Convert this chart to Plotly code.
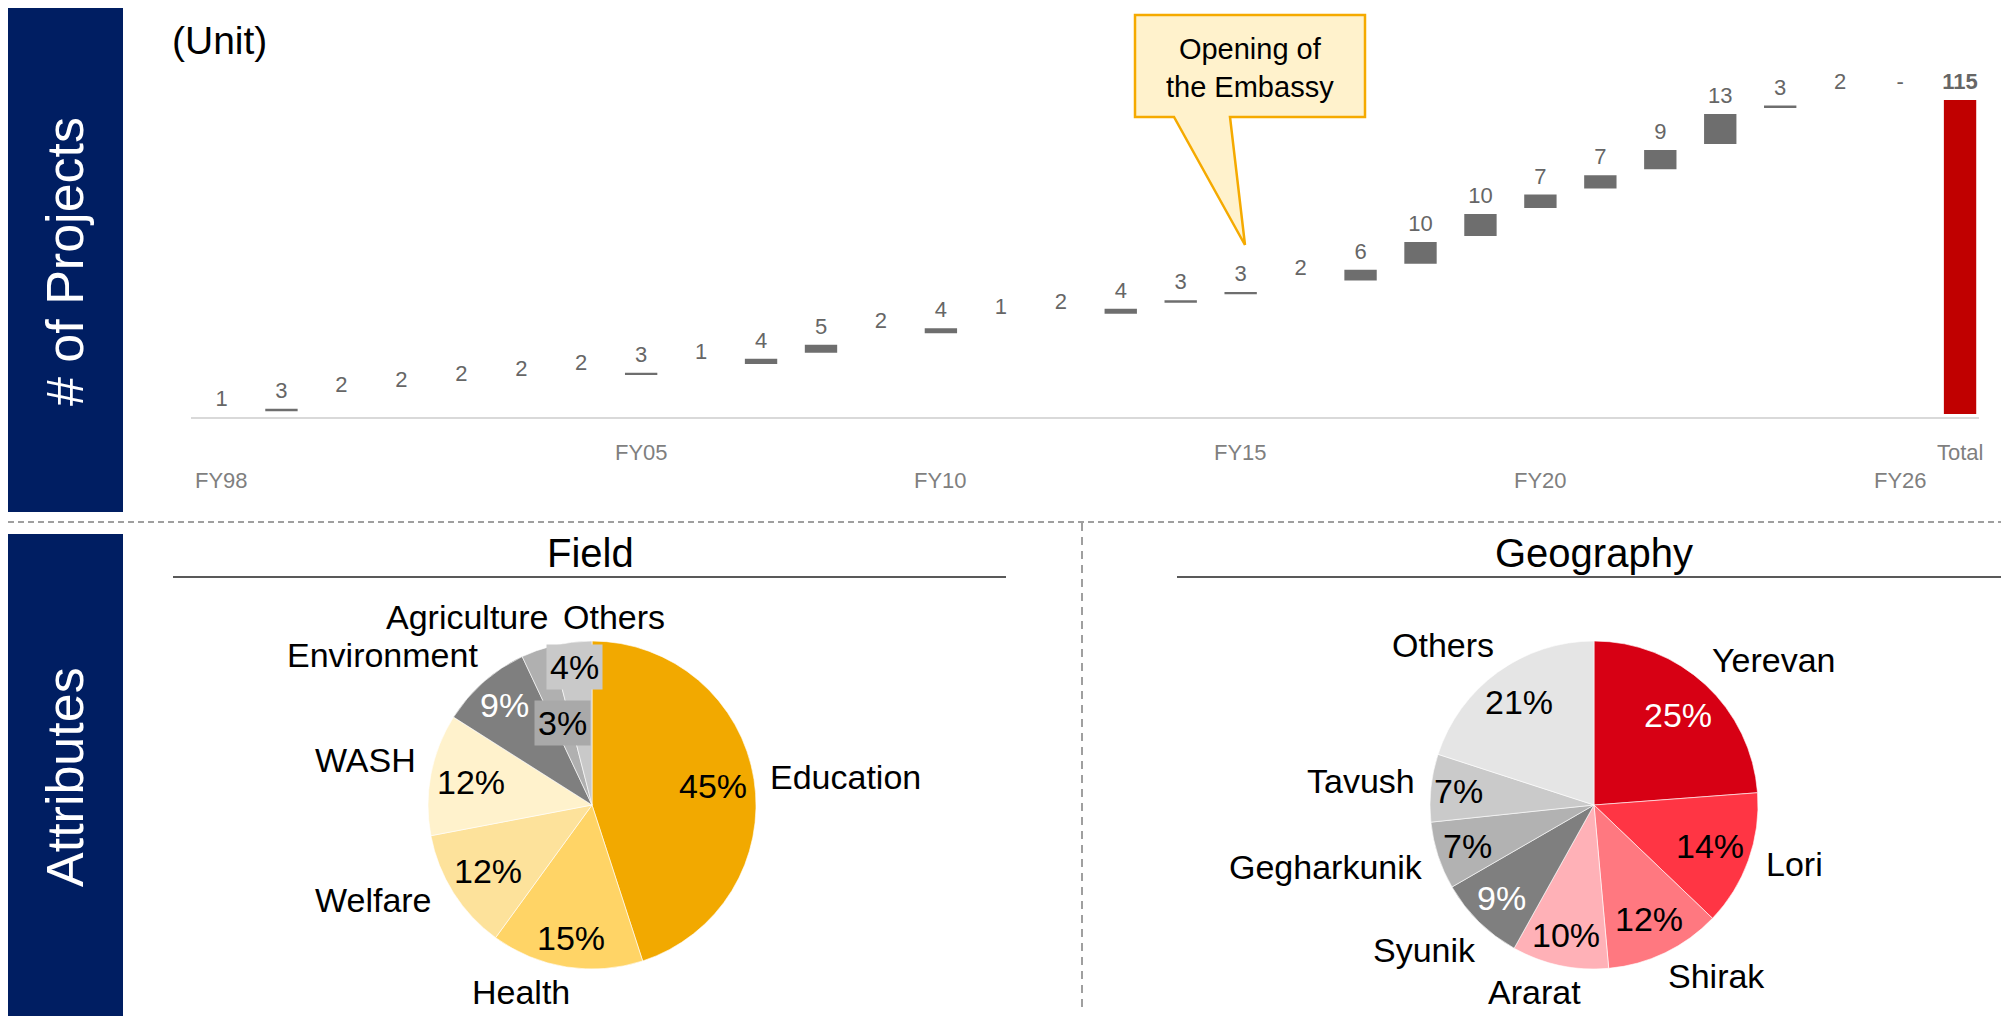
import math
import plotly.graph_objects as go

# ---------------- data ----------------
years = ["FY98", "FY99", "FY00", "FY01", "FY02", "FY03", "FY04", "FY05", "FY06", "FY07",
         "FY08", "FY09", "FY10", "FY11", "FY12", "FY13", "FY14", "FY15", "FY16", "FY17",
         "FY18", "FY19", "FY20", "FY21", "FY22", "FY23", "FY24", "FY25", "FY26"]
project_counts = [1, 3, 2, 2, 2, 2, 2, 3, 1, 4, 5, 2, 4, 1, 2, 4, 3, 3, 2, 6,
                  10, 10, 7, 7, 9, 13, 3, 2, 0]
total_label = "Total"
tick_labels_shown = ["FY98", "FY05", "FY10", "FY15", "FY20", "FY26", "Total"]

field_labels = ["Education", "Health", "Welfare", "WASH", "Environment", "Agriculture", "Others"]
field_values = [45, 15, 12, 12, 9, 3, 4]

geo_labels = ["Yerevan", "Lori", "Shirak", "Ararat", "Syunik", "Gegharkunik", "Tavush", "Others"]
geo_values = [25, 14, 12, 10, 9, 7, 7, 21]

# ---------------- styling ----------------
W, H = 2009, 1016
OFF = 8  # page body margin
FONT = "Liberation Sans, Arial, sans-serif"
NAVY = "#001E62"


def X(px):
    return (px - OFF) / W


def Y(py):
    return 1 - (py - OFF) / H


total = sum(project_counts)
cats = years + [total_label]
measures = ["relative"] * len(years) + ["total"]
wf_values = project_counts + [total]
wf_text = [str(v) if v else "-" for v in project_counts] + [f"<b>{total}</b>"]

fig = go.Figure()

fig.add_trace(go.Waterfall(
    x=cats, y=wf_values, measure=measures,
    text=wf_text, textposition="outside", constraintext="none",
    textfont=dict(family=FONT, size=22, color="#666666"),
    width=0.64,
    increasing=dict(marker=dict(color="#6E6E6E", line=dict(color="white", width=6))),
    decreasing=dict(marker=dict(color="#6E6E6E", line=dict(color="white", width=6))),
    totals=dict(marker=dict(color="#C00000", line=dict(color="white", width=6))),
    connector=dict(visible=False),
    cliponaxis=False, hoverinfo="skip", showlegend=False,
    xaxis="x", yaxis="y",
))

# pies
field_colors = ["#F2A900", "#FFD466", "#FDE29B", "#FFF2CC", "#7F7F7F", "#B0B0B0", "#C9C9C9"]
geo_colors = ["#D70014", "#FF3544", "#FF7880", "#FFB1B7", "#7F7F7F", "#B2B2B2", "#CACACA", "#E5E5E5"]

field_c = (592, 805)
geo_c = (1594, 805)
R = 164

for vals, labs, cols, (cx, cy) in [(field_values, field_labels, field_colors, field_c),
                                   (geo_values, geo_labels, geo_colors, geo_c)]:
    fig.add_trace(go.Pie(
        values=vals, labels=labs, sort=False, direction="clockwise", rotation=0,
        marker=dict(colors=cols, line=dict(color="rgba(255,255,255,0.6)", width=1)),
        textinfo="none", hoverinfo="skip", showlegend=False,
        domain=dict(x=[X(cx - R), X(cx + R)], y=[Y(cy + R), Y(cy - R)]),
    ))

annotations = []


def pct_annots(vals, center, kfac, colors, bgs):
    s = sum(vals)
    cum = 0
    cx, cy = center
    out = []
    for v, k, c, bg in zip(vals, kfac, colors, bgs):
        mid = (cum + v / 2) / s * 2 * math.pi
        cum += v
        px = cx + R * k * math.sin(mid)
        py = cy - R * k * math.cos(mid)
        out.append(dict(x=X(px), y=Y(py), xref="paper", yref="paper", text=f"{v}%",
                        showarrow=False, xanchor="center", yanchor="middle",
                        font=dict(family=FONT, size=34, color=c),
                        bgcolor=bg, borderpad=3))
    return out


annotations += pct_annots(field_values, field_c,
                          [0.75, 0.82, 0.75, 0.75, 0.81, 0.53, 0.85],
                          ["black", "black", "black", "black", "white", "black", "black"],
                          [None, None, None, None, None, "#A9A9A9", "#C9C9C9"])
annotations += pct_annots(geo_values, geo_c,
                          [0.75, 0.75, 0.77, 0.81, 0.80, 0.81, 0.83, 0.78],
                          ["white", "black", "black", "black", "white", "black", "black", "black"],
                          [None] * 8)

# category labels around pies (x px, y px, anchor)
field_label_pos = [(768, 777, "left"), (521, 992, "center"), (434, 900, "right"),
                   (418, 760, "right"), (480, 655, "right"), (467, 617, "center"),
                   (614, 617, "center")]
geo_label_pos = [(1710, 660, "left"), (1764, 864, "left"), (1716, 976, "center"),
                 (1534, 992, "center"), (1424, 950, "center"), (1425, 867, "right"),
                 (1417, 781, "right"), (1443, 645, "center")]
for labs, poss in [(field_labels, field_label_pos), (geo_labels, geo_label_pos)]:
    for lab, (px, py, anc) in zip(labs, poss):
        annotations.append(dict(x=X(px), y=Y(py), xref="paper", yref="paper", text=lab,
                                showarrow=False, xanchor=anc, yanchor="middle",
                                font=dict(family=FONT, size=34, color="black")))

# section titles
for t, cx in [("Field", 590), ("Geography", 1594)]:
    annotations.append(dict(x=X(cx), y=Y(553), xref="paper", yref="paper", text=t,
                            showarrow=False, xanchor="center", yanchor="middle",
                            font=dict(family=FONT, size=40, color="black")))

# band titles
annotations.append(dict(x=X(65), y=Y(262), xref="paper", yref="paper", text="# of Projects",
                        textangle=-90, showarrow=False, xanchor="center", yanchor="middle",
                        font=dict(family=FONT, size=52, color="white")))
annotations.append(dict(x=X(65), y=Y(777), xref="paper", yref="paper", text="Attributes",
                        textangle=-90, showarrow=False, xanchor="center", yanchor="middle",
                        font=dict(family=FONT, size=52, color="white")))

# unit
annotations.append(dict(x=X(170), y=Y(41), xref="paper", yref="paper", text="(Unit)",
                        showarrow=False, xanchor="left", yanchor="middle",
                        font=dict(family=FONT, size=39, color="black")))

# staggered tick labels
tick_rows = {"FY98": 480, "FY05": 452, "FY10": 480, "FY15": 452, "FY20": 480,
             "FY26": 480, "Total": 452}
for lab in tick_labels_shown:
    annotations.append(dict(x=lab, y=Y(tick_rows[lab]), xref="x", yref="paper", text=lab,
                            showarrow=False, xanchor="center", yanchor="middle",
                            font=dict(family=FONT, size=22, color="#7F7F7F")))

# callout text
annotations.append(dict(x=X(1250), y=Y(68), xref="paper", yref="paper",
                        text="Opening of<br>the Embassy", showarrow=False,
                        xanchor="center", yanchor="middle",
                        font=dict(family=FONT, size=29, color="black")))

shapes = []
# navy bands
shapes.append(dict(type="rect", xref="paper", yref="paper", x0=X(8), x1=X(123), y0=Y(512), y1=Y(8),
                   fillcolor=NAVY, line=dict(width=0), layer="below"))
shapes.append(dict(type="rect", xref="paper", yref="paper", x0=X(8), x1=X(123), y0=Y(1030), y1=Y(534),
                   fillcolor=NAVY, line=dict(width=0), layer="below"))
# dashed separators
shapes.append(dict(type="line", xref="paper", yref="paper", x0=0, x1=1, y0=Y(522), y1=Y(522),
                   line=dict(color="#808080", width=1.5, dash="6px,4px")))
shapes.append(dict(type="line", xref="paper", yref="paper", x0=X(1082), x1=X(1082), y0=Y(523), y1=Y(1008),
                   line=dict(color="#808080", width=1.5, dash="8px,6px")))
# title underlines
shapes.append(dict(type="line", xref="paper", yref="paper", x0=X(173), x1=X(1006), y0=Y(577), y1=Y(577),
                   line=dict(color="#595959", width=2)))
shapes.append(dict(type="line", xref="paper", yref="paper", x0=X(1177), x1=1, y0=Y(577), y1=Y(577),
                   line=dict(color="#595959", width=2)))
# callout
pts = [(1135, 15), (1365, 15), (1365, 117), (1230, 117), (1245, 245), (1174, 117), (1135, 117)]
path = "M " + " L ".join(f"{X(a):.5f},{Y(b):.5f}" for a, b in pts) + " Z"
shapes.append(dict(type="path", xref="paper", yref="paper", path=path,
                   fillcolor="#FFF2CC", line=dict(color="#F5AA00", width=2.5)))

pitch = 59.95
c0 = 221.5
ymax = total * (417 - 40) / (417 - 97)

fig.update_layout(
    width=W, height=H, margin=dict(l=0, r=0, t=0, b=0),
    paper_bgcolor="white", plot_bgcolor="rgba(0,0,0,0)",
    font=dict(family=FONT),
    xaxis=dict(domain=[X(191), X(1979)], range=[(191 - c0) / pitch, (1979 - c0) / pitch],
               type="category", categoryorder="array", categoryarray=cats,
               showticklabels=False, showgrid=False, zeroline=False, ticks="",
               showline=True, linecolor="#D9D9D9", linewidth=2, layer="above traces",
               fixedrange=True),
    yaxis=dict(domain=[Y(417), Y(40)], range=[0, ymax], visible=False, fixedrange=True),
    annotations=annotations, shapes=shapes,
)

fig.write_html("out.html")
